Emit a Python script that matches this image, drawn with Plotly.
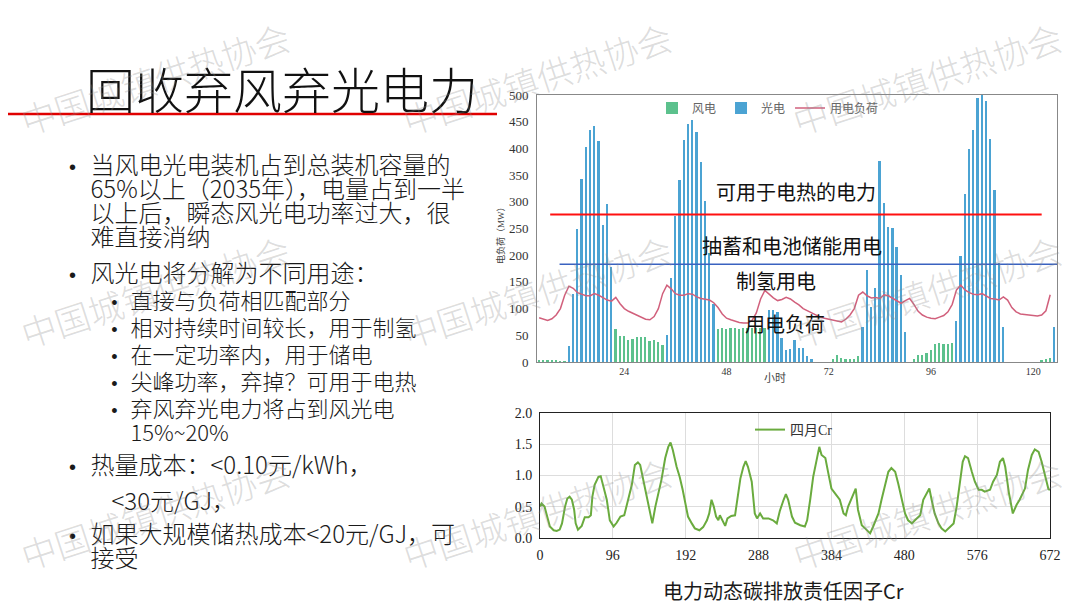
import plotly.graph_objects as go

# ---- top chart: hourly wind / solar output and load (MW) ----
hours = list(range(4, 126))
solar = [0, 0, 0, 0, 0, 0, 0,
         30, 128, 250, 342, 402, 434, 442, 414, 256, 295, 178,
         0, 0, 0, 0, 0, 0, 0, 0, 0, 0, 0, 0,
         50, 157, 273, 340, 416, 446, 453, 431, 374, 301, 204, 108,
         0, 0, 0, 0, 0, 0, 0, 0, 0, 0, 0, 0,
         97, 97, 94,
         45, 22, 24, 42, 26, 26, 12, 6,
         0, 0, 0, 0, 0, 0, 0, 0, 0, 0, 0,
         66, 172, 103, 138, 376, 297, 253, 251, 216, 163, 56,
         0, 0, 0, 0, 0, 0, 0, 0, 0, 0, 0,
         76, 199, 314, 398, 434, 494, 500, 488, 418, 323, 186, 66,
         0, 0, 0, 0, 0, 0, 0, 0, 0, 0, 0,
         66]
wind = [3, 4, 3, 2, 2, 1, 1,
        2, 4, 6, 8, 10, 14, 18, 22, 28, 34, 40,
        62, 49, 48, 41, 44, 46, 47, 46, 40, 41, 37, 32,
        30, 35, 40, 45, 50, 55, 58, 60, 60, 62, 62, 62,
        62, 63, 62, 63, 63, 62, 63, 63, 64, 63, 64, 64,
        64, 65, 65,
        38, 18, 20, 16, 14, 10, 8, 4,
        0, 0, 0, 0, 5, 14, 8, 5, 5, 6, 12,
        10, 8, 6, 5, 4, 3, 3, 2, 2, 1, 0,
        0, 5, 14, 14, 16, 22, 34, 36, 33, 33, 36,
        35, 33, 32, 30, 30, 28, 26, 22, 18, 12, 8, 4,
        0, 0, 0, 0, 0, 0, 0, 0, 3, 6, 8,
        10]
load_hours = list(range(4, 125))
load = [83, 80, 78, 81, 88, 100, 125, 142, 138, 130,
        127, 124, 124, 128, 125, 120, 116, 114, 121, 109,
        100, 95, 91, 87, 83, 80, 79, 85, 100, 128,
        144, 137, 128, 125, 125, 128, 127, 122, 119, 118,
        116, 111, 102, 90, 82, 79, 76, 74, 73, 73,
        78, 92, 118, 134, 127, 120, 115, 117, 121, 118,
        112, 107, 100, 96, 92, 87, 84, 82, 80, 78,
        76, 75, 80, 88, 100, 125, 131, 124, 120, 121,
        119, 126, 124, 119, 114, 110, 115, 119, 108, 95,
        88, 84, 82, 81, 84, 87, 94, 108, 135, 144,
        135, 130, 127, 126, 128, 123, 119, 118, 116, 122,
        116, 102, 94, 90, 89, 88, 87, 86, 88, 96,
        126]

heat_line_x = [6.6, 122]
heat_line_y = [276, 276]
storage_line_x = [8.8, 125.6]
storage_line_y = [183, 183]

# ---- bottom chart: April Cr factor over 672 hours ----
cr_hours = [0, 2, 6, 9, 13, 18, 22, 26, 29, 33, 36, 39, 42, 45, 47, 50, 55, 59, 64, 67,
            69, 72, 77, 80, 83, 88, 92, 97, 101, 106, 111, 116, 121, 125, 129, 132, 136,
            142, 146, 148, 152, 156, 160, 165, 169, 172, 175, 180, 184, 188, 192, 195,
            200, 204, 210, 215, 220, 223, 226, 229, 232, 235, 237, 241, 244, 247, 252,
            257, 260, 264, 268, 271, 274, 279, 283, 286, 290, 294, 301, 307, 312, 316,
            321, 324, 327, 332, 336, 343, 349, 352, 356, 360, 365, 368, 371, 376, 380,
            384, 389, 395, 400, 403, 406, 411, 416, 419, 424, 430, 435, 439, 446, 450,
            455, 459, 463, 468, 472, 477, 481, 485, 490, 494, 501, 505, 509, 513, 516,
            520, 525, 529, 534, 540, 545, 549, 553, 557, 560, 564, 569, 573, 578, 582,
            586, 593, 597, 602, 606, 610, 613, 618, 623, 628, 632, 639, 643, 648, 652,
            657, 661, 665, 670, 672]
cr_values = [0.50, 0.55, 0.50, 0.36, 0.18, 0.12, 0.11, 0.13, 0.23, 0.50, 0.63, 0.66, 0.61,
             0.45, 0.23, 0.13, 0.19, 0.33, 0.33, 0.36,
             0.66, 0.85, 0.98, 0.99, 0.85, 0.61, 0.28, 0.18, 0.24, 0.34, 0.36, 0.61, 0.85,
             1.17, 1.21, 1.17, 0.93,
             0.61, 0.36, 0.23, 0.50, 0.71, 0.93, 1.28, 1.46, 1.53, 1.41, 1.14, 0.98, 0.77,
             0.53, 0.34,
             0.23, 0.15, 0.12, 0.17, 0.28, 0.39, 0.61, 0.50, 0.34, 0.28, 0.36, 0.26, 0.19,
             0.31, 0.35,
             0.36, 0.61, 0.95, 1.14, 1.23, 1.14, 0.90, 0.39, 0.31, 0.39, 0.31, 0.31, 0.28,
             0.23, 0.43,
             0.61, 0.70, 0.61, 0.34, 0.24, 0.20, 0.18, 0.28, 0.61, 0.98, 1.28, 1.46, 1.33,
             1.28, 1.03,
             0.79, 0.71, 0.61, 0.39, 0.36, 0.50, 0.66, 0.79, 0.45, 0.20, 0.13, 0.07, 0.18,
             0.39, 0.61,
             0.87, 1.06, 1.12, 1.06, 0.87, 0.61, 0.39, 0.28, 0.23, 0.28, 0.36, 0.61, 0.71,
             0.79, 0.61,
             0.39, 0.23, 0.15, 0.10, 0.18, 0.23, 0.50, 0.87, 1.22, 1.31, 1.28, 1.06, 0.90,
             0.77, 0.77,
             0.74, 0.77, 0.90, 1.01, 1.22, 1.28, 1.14, 0.71, 0.39, 0.53, 0.61, 0.79, 1.09,
             1.33, 1.42,
             1.38, 1.22, 1.01, 0.78, 0.77]

# ---- slide text: (style, text) ----
slide_lines = [
    ("bullet", "当风电光电装机占到总装机容量的"),
    ("cont", "65%以上（2035年），电量占到一半"),
    ("cont", "以上后，瞬态风光电功率过大，很"),
    ("cont", "难直接消纳"),
    ("bullet", "风光电将分解为不同用途："),
    ("sub", "直接与负荷相匹配部分"),
    ("sub", "相对持续时间较长，用于制氢"),
    ("sub", "在一定功率内，用于储电"),
    ("sub", "尖峰功率，弃掉？可用于电热"),
    ("sub", "弃风弃光电力将占到风光电"),
    ("subcont", "15%~20%"),
    ("bullet", "热量成本：&lt;0.10元/kWh，"),
    ("indent", "&lt;30元/GJ，"),
    ("bullet", "如果大规模储热成本&lt;20元/GJ，可"),
    ("cont", "接受"),
]
# vertical slot of each line, in 3px steps below the first line
slide_slots = [0, 8, 16, 24, 36, 45, 54, 63, 72, 81, 89, 100, 112, 123, 131]

SANS = "Noto Sans CJK SC"
SERIF = "Liberation Serif, Noto Sans CJK SC"
W, H = 1080, 608
PAGE_OFFSET = 8  # the page body margin shifts the figure by 8px


def px(x):
    return (x - PAGE_OFFSET) / W


def py(y):
    return 1 - (y - PAGE_OFFSET) / H


def note(x, y, text, size, color="#1a1a1a", family=SANS, xanchor="center", angle=0, weight=None):
    f = dict(family=family, size=size, color=color)
    if weight:
        f["weight"] = weight
    return dict(x=px(x), y=py(y), xref="paper", yref="paper", text=text,
                showarrow=False, xanchor=xanchor, yanchor="middle", textangle=angle,
                borderpad=0, font=f)


def gap(w):
    # ideographic space is exactly 1em wide
    return f"<span style='font-size:{w}px'>\u3000</span>"


def dot(size):
    return f"<span style='font-family:Liberation Sans;font-size:{size}px'>•</span>"


def text(s, size):
    return f"<span style='font-size:{size}px'>{s}</span>"


# text block starts at x=67.5 (left edge of the main bullets)
line_html = {
    "bullet": lambda s: dot(20) + gap(14.5) + text(s, 24),
    "cont": lambda s: gap(21.5) + text(s, 24),
    "indent": lambda s: gap(42.5) + text(s, 24),
    "sub": lambda s: gap(42.35) + dot(18) + gap(12.85) + text(s, 22),
    "subcont": lambda s: gap(61.5) + text(s, 22),
}
rows = [""] * (slide_slots[-1] + 1)
for (style, s), k in zip(slide_lines, slide_slots):
    rows[k] = line_html[style](s)
slide_text = "<br>".join(rows)

fig = go.Figure()

fig.add_trace(go.Bar(x=hours, y=wind, name="风电", width=0.42,
                     marker=dict(color="#5cc18d", line_width=0),
                     xaxis="x", yaxis="y", legend="legend"))
fig.add_trace(go.Bar(x=hours, y=solar, name="光电", width=0.42,
                     marker=dict(color="#4ba3d3", line_width=0),
                     xaxis="x", yaxis="y", legend="legend"))
fig.add_trace(go.Scatter(x=load_hours, y=load, name="用电负荷", mode="lines",
                         line=dict(color="#d1607c", width=1.5),
                         xaxis="x", yaxis="y", legend="legend"))
fig.add_trace(go.Scatter(x=heat_line_x, y=heat_line_y, mode="lines", showlegend=False,
                         line=dict(color="#ff1010", width=2), xaxis="x", yaxis="y"))
fig.add_trace(go.Scatter(x=storage_line_x, y=storage_line_y, mode="lines", showlegend=False,
                         line=dict(color="#3a62c0", width=1.5), xaxis="x", yaxis="y"))

fig.add_trace(go.Scatter(x=cr_hours, y=cr_values, name="四月Cr", mode="lines",
                         line=dict(color="#6aab3e", width=2),
                         xaxis="x2", yaxis="y2", legend="legend2"))

annotations = [note(85, 87, "回收弃风弃光电力", 49, "#111111", xanchor="left", weight=300)]

# whole left column as one block: base font sets a 3px line step
block = note(67.5, (163 + 163 + 3 * slide_slots[-1]) / 2, slide_text, 3 / 1.3,
             xanchor="left", weight=300)
block["align"] = "left"
annotations.append(block)

# labels inside the top chart
for x, y, t in [(796, 191, "可用于电热的电力"), (792, 245, "抽蓄和电池储能用电"),
                (776, 280, "制氢用电"), (785, 323, "用电负荷")]:
    annotations.append(note(x, y, t, 20, "#111111"))

annotations.append(note(775, 378, "小时", 11, "#444444", SERIF))
annotations.append(note(500, 233, "电负荷（MW）", 9, "#444444", SERIF, angle=-90))
annotations.append(note(783, 590, "电力动态碳排放责任因子Cr", 20))

# watermark
for x in (155, 537, 927):
    for y in (78, 290, 512):
        annotations.append(note(x, y, "中国城镇供热协会", 35, "rgba(140,140,140,0.3)", angle=-18,
                                weight=300))

fig.update_layout(
    width=W, height=H,
    margin=dict(l=0, r=0, t=0, b=0),
    paper_bgcolor="white", plot_bgcolor="white",
    barmode="overlay", bargap=0,
    xaxis=dict(domain=[px(537), px(1057)], range=[3.5, 125.6], anchor="y", automargin=False,
               tickvals=[24, 48, 72, 96, 120], showgrid=False, zeroline=False,
               showline=True, mirror=True, linecolor="#888888", linewidth=1, ticks="",
               tickfont=dict(family=SERIF, size=10, color="#333333")),
    yaxis=dict(domain=[py(362), py(95)], range=[0, 500], anchor="x", dtick=50, automargin=False,
               showgrid=False, zeroline=False,
               showline=True, mirror=True, linecolor="#888888", linewidth=1,
               ticks="outside", ticklen=5, tickcolor="white",
               tickfont=dict(family=SERIF, size=13, color="#333333")),
    xaxis2=dict(domain=[px(540), px(1050)], range=[0, 672], anchor="y2", automargin=False,
                tickvals=list(range(0, 673, 96)), showgrid=True, gridcolor="#dddddd",
                zeroline=False, showline=True, mirror=True, linecolor="#222222",
                ticks="outside", ticklen=4, tickcolor="white",
                tickfont=dict(family=SERIF, size=14, color="#222222")),
    yaxis2=dict(domain=[py(537.7), py(413.3)], range=[0, 2], anchor="x2", dtick=0.5,
                automargin=False, tickformat=".1f", showgrid=True, gridcolor="#dddddd",
                zeroline=False, showline=True, mirror=True, linecolor="#222222",
                ticks="outside", ticklen=4, tickcolor="white",
                tickfont=dict(family=SERIF, size=14, color="#222222")),
    legend=dict(orientation="h", x=px(652), y=py(108), xanchor="left", yanchor="middle",
                bgcolor="rgba(0,0,0,0)", itemwidth=30, tracegroupgap=0,
                font=dict(family=SERIF, size=12, color="#666666")),
    legend2=dict(x=px(750), y=py(430), xanchor="left", yanchor="middle",
                 bgcolor="rgba(0,0,0,0)",
                 font=dict(family=SERIF, size=14, color="#333333")),
    annotations=annotations,
    shapes=[dict(type="line", xref="paper", yref="paper", x0=px(0), x1=px(497),
                 y0=py(114), y1=py(114), line=dict(color="#e00000", width=2.5))],
)

fig.write_html("out.html")
